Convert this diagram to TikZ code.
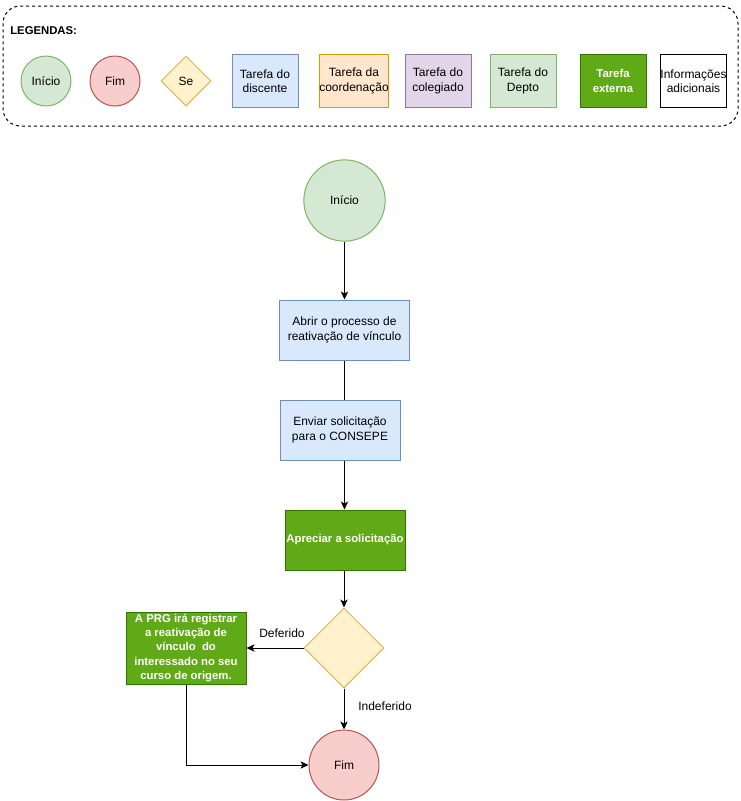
\documentclass[tikz,border=0pt]{standalone}
\usepackage{fontspec}
\setmainfont{Liberation Sans}
\usetikzlibrary{arrows.meta,shapes.geometric}
\definecolor{verdeF}{HTML}{D5E8D4}
\definecolor{verdeD}{HTML}{82B366}
\definecolor{vermF}{HTML}{F8CECC}
\definecolor{vermD}{HTML}{B85450}
\definecolor{amarF}{HTML}{FFF2CC}
\definecolor{amarD}{HTML}{D6B656}
\definecolor{azulF}{HTML}{DAE8FC}
\definecolor{azulD}{HTML}{6C8EBF}
\definecolor{larF}{HTML}{FFE6CC}
\definecolor{larD}{HTML}{D79B00}
\definecolor{roxoF}{HTML}{E1D5E7}
\definecolor{roxoD}{HTML}{9673A6}
\definecolor{extF}{HTML}{60A917}
\definecolor{extD}{HTML}{2D7600}
\definecolor{infoF}{HTML}{FFFFFF}
\definecolor{infoD}{HTML}{000000}
\tikzset{%
  txt/.style={font=\fontsize{9}{10.8}\selectfont,inner sep=0pt,align=center},
  circ/.style={circle,txt,draw=#1D,fill=#1F,line width=.75pt},
  circ/.default=verde,
  decide/.style={diamond,aspect=1,txt,draw=amarD,fill=amarF,line width=.75pt},
  tarefa/.style={rectangle,txt,draw=#1D,fill=#1F,line width=.75pt},
  tarefa/.default=azul,
  externa/.style={tarefa=ext,text=white,font=\fontsize{8.5}{10.8}\selectfont\bfseries},
  leg/.style={minimum width=49.5pt,minimum height=39.5pt},
  seta/.style={line width=.75pt,-{Stealth[length=6pt,width=5.5pt,inset=1.5pt]}},
  liga/.style={line width=.75pt}
}
\begin{document}
\begin{tikzpicture}[x=0.75pt,y=-0.75pt]
  \useasboundingbox (0,0) rectangle (741,801);
  %% legendas
  \draw[line width=.75pt,dash pattern=on 2.25pt off 2.25pt,rounded corners=13pt]
    (3,6) rectangle (738,126);
  \node[txt,font=\fontsize{8.5}{10.8}\selectfont\bfseries,anchor=west] (legt) at (10,31) {LEGENDAS:};
  \node[circ=verde,minimum size=37.5pt] (l0) at (46,81) {Início};
  \node[circ=verm,minimum size=37.5pt] (l1) at (115,81) {Fim};
  \node[decide,minimum size=37.5pt] (l2) at (186,81) {Se};
  \node[tarefa=azul,leg] (l3) at (265,81) {Tarefa do\\discente};
  \node[tarefa=lar,leg] (l4) at (354,81) {Tarefa da\\coordenação};
  \node[tarefa=roxo,leg] (l5) at (438,81) {Tarefa do\\colegiado};
  \node[tarefa=verde,leg] (l6) at (523,81) {Tarefa do\\Depto};
  \node[externa,leg] (l7) at (613,81) {Tarefa\\externa};
  \node[tarefa=info,leg] (l8) at (693.5,81) {Informações\\adicionais};
  %% fluxo
  \node[circ=verde,minimum size=61pt] (inicio) at (344.5,200.5) {Início};
  \node[tarefa,minimum width=97.5pt,minimum height=45pt] (abrir) at (344.5,330) {Abrir o processo de\\reativação de vínculo};
  \node[tarefa,minimum width=90pt,minimum height=45pt] (enviar) at (340,430) {Enviar solicitação\\para o CONSEPE};
  \node[externa,minimum width=90pt,minimum height=45pt] (apreciar) at (345,540) {Apreciar a solicitação};
  \node[decide,minimum size=60pt] (decisao) at (344,648) {};
  \node[externa,minimum width=90pt,minimum height=54pt] (prg) at (186,648)
    {A PRG irá registrar\\a reativação de\\vínculo\ \ do\\interessado no seu\\curso de origem.};
  \node[circ=verm,minimum size=52.5pt] (fim) at (344,765) {Fim};
  %%
  \draw[seta] (inicio.south) -- (inicio.south |- abrir.north);
  \draw[liga] (abrir.south -| inicio) -- (enviar.north -| inicio);
  \draw[seta] (enviar.south -| inicio) -- (apreciar.north -| inicio);
  \draw[seta] (apreciar.south -| decisao) -- (decisao.north);
  \draw[seta] (decisao.west) -- (prg.east);
  \draw[seta] (decisao.south) -- (fim.north);
  \draw[seta] (prg.south) |- (fim.west);
  \node[txt] (deferido) at (282,633) {Deferido};
  \node[txt] (indeferido) at (385,706) {Indeferido};
\end{tikzpicture}
\end{document}
